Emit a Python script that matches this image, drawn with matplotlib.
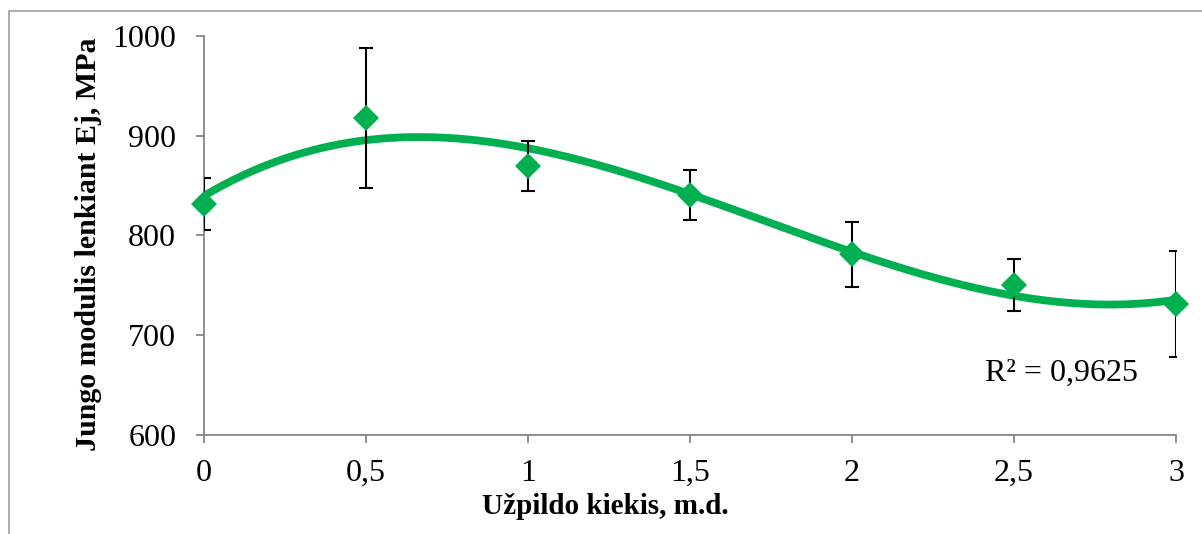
import numpy as np
import matplotlib
matplotlib.use("Agg")
import matplotlib.pyplot as plt
from matplotlib.patches import Rectangle

# Data
x_vals = [0, 0.5, 1, 1.5, 2, 2.5, 3]
y_vals = [832, 918, 870, 841, 781, 750, 731]
y_err = [26, 70, 25, 25, 33, 26, 53]
x_ticks = [0, 0.5, 1, 1.5, 2, 2.5, 3]
x_ticklabels = ["0", "0,5", "1", "1,5", "2", "2,5", "3"]
y_ticks = [600, 700, 800, 900, 1000]
r2_text = "R² = 0,9625"
xlabel = "Užpildo kiekis, m.d."
ylabel = "Jungo modulis lenkiant Ej, MPa"

plt.rcParams['font.family'] = ['Liberation Serif', 'DejaVu Serif']

W, H = 1202, 534
fig = plt.figure(figsize=(W / 100, H / 100), dpi=100)
ax = fig.add_axes([204 / W, 1 - 435 / H, (1176 - 204) / W, (435 - 36) / H])

green = "#00B050"
gray = "#868686"

# Trendline: cubic polynomial fit
coef = np.polyfit(x_vals, y_vals, 3)
xs = np.linspace(0, 3, 300)
ax.plot(xs, np.polyval(coef, xs), color=green, lw=5.6, zorder=2, solid_capstyle='butt')

ax.errorbar(x_vals, y_vals, yerr=y_err, fmt='none', ecolor='black', elinewidth=1.5,
            capsize=5, capthick=1.5, zorder=3)
ax.plot(x_vals, y_vals, linestyle='none', marker='D', markersize=13.5, color=green,
        markeredgewidth=0, zorder=4, clip_on=False)

ax.set_xlim(0, 3)
ax.set_ylim(600, 1000)
ax.set_xticks(x_ticks)
ax.set_xticklabels(x_ticklabels)
ax.set_yticks(y_ticks)

for s in ['top', 'right']:
    ax.spines[s].set_visible(False)
for s in ['left', 'bottom']:
    ax.spines[s].set_color(gray)
    ax.spines[s].set_linewidth(1.3)
ax.tick_params(axis='both', colors=gray, length=6, width=1.3, labelsize=23, labelcolor='black')
ax.tick_params(axis='x', pad=11)
ax.tick_params(axis='y', pad=14)

ax.set_xlabel(xlabel, fontsize=21, fontweight='bold')
ax.set_ylabel(ylabel, fontsize=21.5, fontweight='bold')
ax.xaxis.set_label_coords(0.4125, -0.145)
ax.yaxis.set_label_coords(-0.105, 0.479)

ax.text(2.41, 662, r2_text, fontsize=23, ha='left', va='center')

# Outer chart frame
fig.patches.append(Rectangle((9 / W, -0.1), 1.2, 1 - 11 / H + 0.1, transform=fig.transFigure,
                             fill=False, edgecolor="#A0A0A0", lw=1.2))

fig.savefig("out.png", dpi=100)
